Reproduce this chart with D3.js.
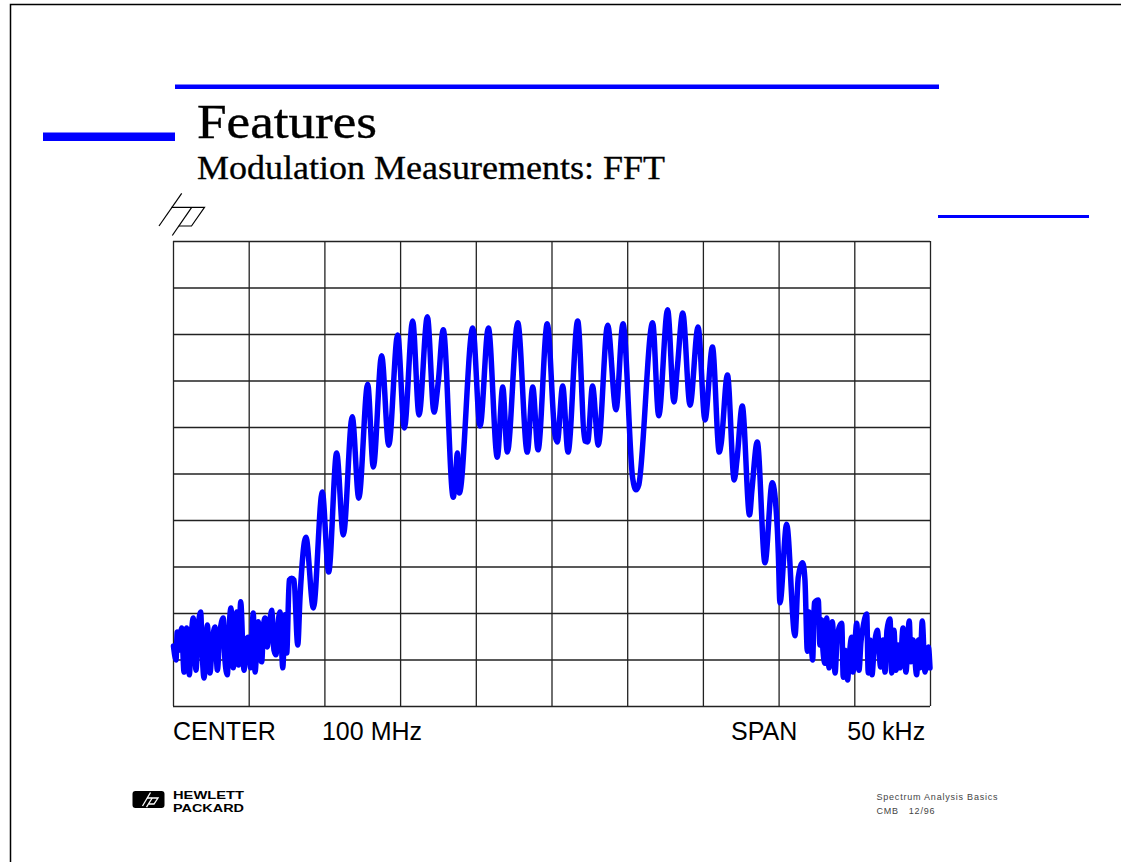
<!DOCTYPE html>
<html>
<head>
<meta charset="utf-8">
<script src="https://cdn.jsdelivr.net/npm/d3@7"></script>
<style>
  html, body { margin: 0; padding: 0; background: #fff; }
  svg { display: block; }
</style>
</head>
<body>
<svg id="slide" width="1121" height="862"></svg>
<script>
// Analyzer settings: 10 horizontal divisions at 5 kHz, 10 vertical at 10 dB
const spanKHz = 50;
const refLevelDb = 0;
const dbPerDiv = 10;
const divisions = 10;

// Bottom annotation labels (text, anchor frequency offset in kHz)
const labelTexts = ["CENTER", "100 MHz", "SPAN", "50 kHz"];
const labelOffsets = [-25, -15.16, 11.86, 19.54];

// Trace: frequency offset from center (kHz)
const traceKHz = [
  -24.97,-24.80,-24.72,-24.60,-24.43,-24.27,-24.10,-23.92,-23.81,-23.66,
  -23.48,-23.35,-23.17,-23.08,-22.95,-22.73,-22.56,-22.39,-22.23,-22.07,
  -21.90,-21.68,-21.57,-21.41,-21.30,-21.17,-21.02,-20.79,-20.67,-20.53,
  -20.31,-20.18,-20.03,-19.88,-19.70,-19.58,-19.37,-19.25,-19.14,-19.02,
  -18.92,-18.77,-18.66,-18.48,-18.33,-18.20,-18.07,-17.93,-17.75,-17.60,
  -17.49,-17.32,-17.16,-17.01,-16.76,-16.61,-16.22,-15.73,-15.14,-14.72,
  -14.19,-13.75,-13.16,-12.73,-12.14,-11.77,-11.22,-10.75,-10.16,-9.72,
  -9.17,-8.75,-8.20,-7.76,-7.48,-7.15,-6.49,-6.31,-6.22,-6.09,
  -5.20,-4.72,-4.17,-3.58,-3.22,-2.92,-2.23,-1.60,-1.24,-0.89,
  -0.28,0.23,0.38,0.74,1.09,1.73,2.21,2.39,2.71,3.09,
  3.71,4.26,4.72,5.36,5.58,5.76,6.68,7.08,7.67,8.09,
  8.31,8.67,9.15,9.68,10.14,10.63,11.08,11.20,11.62,12.07,
  12.25,12.60,13.08,13.24,13.59,14.10,14.58,14.91,14.98,15.09,
  15.53,16.08,16.30,16.59,16.74,16.90,17.01,17.14,17.25,17.36,
  17.62,17.73,17.85,17.93,18.06,18.18,18.33,18.55,18.73,18.86,
  18.99,19.17,19.27,19.39,19.56,19.65,19.83,19.91,20.16,20.31,
  20.44,20.57,20.82,20.92,21.04,21.17,21.30,21.52,21.74,21.90,
  22.03,22.16,22.36,22.47,22.62,22.75,22.89,23.02,23.22,23.41,
  23.63,23.74,23.88,24.12,24.24,24.34,24.49,24.67,24.89,25.00
];

// Trace: displayed level (dB relative to reference)
const traceDb = [
  -87.1,-90.1,-84.1,-88.0,-83.2,-92.7,-83.2,-93.3,-85.8,-81.1,
  -92.3,-83.7,-79.8,-88.0,-94.0,-82.6,-92.9,-85.8,-83.0,-92.3,
  -84.1,-81.1,-90.1,-93.3,-83.7,-78.9,-91.8,-79.8,-91.2,-77.6,
  -92.3,-85.8,-85.2,-91.8,-80.0,-92.7,-81.9,-89.0,-90.5,-82.6,
  -81.1,-87.3,-83.7,-79.4,-88.0,-89.0,-82.6,-79.8,-91.8,-80.4,
  -88.6,-72.9,-72.5,-72.9,-86.9,-76.6,-63.7,-78.9,-54.0,-71.2,
  -45.6,-63.2,-37.8,-55.3,-30.8,-48.6,-24.7,-43.9,-20.2,-40.2,
  -17.2,-37.4,-16.3,-36.8,-30.3,-19.1,-55.1,-49.2,-45.6,-54.2,
  -18.7,-39.8,-18.7,-46.5,-31.4,-45.4,-17.6,-45.4,-31.4,-44.9,
  -17.8,-41.7,-43.2,-31.2,-45.4,-17.2,-43.0,-43.2,-31.2,-43.9,
  -18.1,-36.3,-17.8,-51.0,-53.5,-52.5,-17.6,-37.6,-14.8,-34.6,
  -27.3,-15.5,-35.3,-18.5,-38.5,-22.8,-45.4,-43.7,-28.8,-51.4,
  -47.1,-35.5,-58.9,-53.5,-43.2,-69.2,-52.0,-61.5,-67.1,-77.8,
  -60.9,-84.9,-72.3,-69.2,-72.9,-88.2,-79.8,-85.8,-90.1,-77.8,
  -77.2,-86.9,-81.5,-88.0,-90.8,-81.1,-91.8,-81.9,-92.9,-85.8,
  -83.2,-82.2,-93.8,-88.0,-94.4,-90.1,-85.2,-92.7,-82.2,-92.3,
  -86.2,-83.2,-80.2,-92.9,-85.8,-93.3,-88.0,-83.7,-91.6,-85.8,
  -92.7,-83.7,-81.3,-92.9,-83.7,-92.3,-86.9,-91.8,-83.2,-92.7,
  -81.7,-90.5,-85.8,-93.3,-85.8,-91.8,-81.7,-92.7,-87.3,-91.8
];

const svg = d3.select("#slide");
const blue = "#0000ff";

// ---- slide frame ----
svg.append("path")
  .attr("d", "M10.5,862 V4.5 H1121")
  .attr("fill", "none").attr("stroke", "#000").attr("stroke-width", 1.5);

// ---- decorative rules ----
svg.append("rect").attr("x", 175).attr("y", 84.5).attr("width", 764).attr("height", 4.5).attr("fill", blue);
svg.append("rect").attr("x", 43).attr("y", 132.5).attr("width", 132).attr("height", 8.5).attr("fill", blue);
svg.append("rect").attr("x", 938).attr("y", 215).attr("width", 151).attr("height", 3).attr("fill", blue);

// ---- headings ----
svg.append("text")
  .attr("x", 197).attr("y", 137.5)
  .attr("font-family", "'Liberation Serif', 'Times New Roman', serif")
  .attr("font-size", 48)
  .attr("stroke", "#000").attr("stroke-width", 0.4)
  .attr("textLength", 180).attr("lengthAdjust", "spacingAndGlyphs")
  .text("Features");
svg.append("text")
  .attr("x", 197).attr("y", 179)
  .attr("font-family", "'Liberation Serif', 'Times New Roman', serif")
  .attr("font-size", 33)
  .attr("stroke", "#000").attr("stroke-width", 0.3)
  .attr("textLength", 468).attr("lengthAdjust", "spacingAndGlyphs")
  .text("Modulation Measurements: FFT");

// ---- small italic hp mark ----
const hpMark = svg.append("g").attr("fill", "none").attr("stroke", "#000").attr("stroke-width", 1.2);
hpMark.append("path").attr("d", "M181.7,193.3 L159,226");
hpMark.append("path").attr("d", "M171.5,207.3 H204.5 L191.5,226 H178.8");
hpMark.append("path").attr("d", "M191.7,207.3 L172.3,235.5");

// ---- graticule ----
const plot = { left: 173, top: 241, width: 757, height: 465 };
const x = d3.scaleLinear().domain([-spanKHz / 2, spanKHz / 2]).range([plot.left, plot.left + plot.width]);
const y = d3.scaleLinear().domain([refLevelDb - dbPerDiv * divisions, refLevelDb]).range([plot.top + plot.height, plot.top]);

const xTicks = d3.range(0, divisions + 1).map(i => -spanKHz / 2 + i * spanKHz / divisions);
const yTicks = d3.range(0, divisions + 1).map(i => refLevelDb - i * dbPerDiv);

const gridX = svg.append("g")
  .attr("transform", `translate(0,${plot.top + plot.height})`)
  .call(d3.axisBottom(x).tickValues(xTicks).tickSize(-plot.height).tickFormat(""));
const gridY = svg.append("g")
  .attr("transform", `translate(${plot.left},0)`)
  .call(d3.axisLeft(y).tickValues(yTicks).tickSize(-plot.width).tickFormat(""));
[gridX, gridY].forEach(g => {
  g.select(".domain").remove();
  g.selectAll(".tick line").attr("stroke", "#222").attr("stroke-width", 1.3);
});

// ---- measured trace ----
const points = d3.zip(traceKHz, traceDb);
svg.append("path")
  .datum(points)
  .attr("fill", "none")
  .attr("stroke", blue)
  .attr("stroke-width", 5.5)
  .attr("stroke-linejoin", "round")
  .attr("stroke-linecap", "round")
  .attr("d", d3.line().x(d => x(d[0])).y(d => y(d[1])).curve(d3.curveMonotoneX));

// ---- center / span annotation ----
svg.append("g").selectAll("text")
  .data(d3.zip(labelTexts, labelOffsets))
  .join("text")
  .attr("x", d => x(d[1]))
  .attr("y", 740)
  .attr("font-family", "'Liberation Sans', Arial, sans-serif")
  .attr("font-size", 25)
  .attr("fill", "#000")
  .text(d => d[0]);

// ---- corporate footer ----
const logo = svg.append("g");
logo.append("rect").attr("x", 132.5).attr("y", 791).attr("width", 32).attr("height", 17).attr("rx", 3).attr("fill", "#000");
const logoMark = logo.append("g").attr("fill", "none").attr("stroke", "#fff").attr("stroke-width", 1.3);
logoMark.append("path").attr("d", "M150.5,792.5 L142.5,806");
logoMark.append("path").attr("d", "M147,798 H158 L154,804 H149");
logoMark.append("path").attr("d", "M152.2,798 L146.5,807.2");
logo.append("text").attr("x", 173).attr("y", 799.2)
  .attr("font-family", "'Liberation Sans', Arial, sans-serif").attr("font-weight", "bold")
  .attr("font-size", 11).attr("textLength", 71).attr("lengthAdjust", "spacingAndGlyphs")
  .text("HEWLETT");
logo.append("text").attr("x", 173).attr("y", 811.5)
  .attr("font-family", "'Liberation Sans', Arial, sans-serif").attr("font-weight", "bold")
  .attr("font-size", 11).attr("textLength", 71).attr("lengthAdjust", "spacingAndGlyphs")
  .text("PACKARD");

svg.append("text").attr("x", 876.5).attr("y", 800)
  .attr("font-family", "'Liberation Sans', Arial, sans-serif").attr("font-size", 9)
  .attr("fill", "#444").attr("textLength", 121).attr("lengthAdjust", "spacing")
  .text("Spectrum Analysis Basics");
svg.append("text").attr("x", 876.5).attr("y", 813.5)
  .attr("font-family", "'Liberation Sans', Arial, sans-serif").attr("font-size", 9)
  .attr("fill", "#444").attr("xml:space", "preserve")
  .attr("textLength", 58).attr("lengthAdjust", "spacing")
  .text("CMB   12/96");
</script>
</body>
</html>
